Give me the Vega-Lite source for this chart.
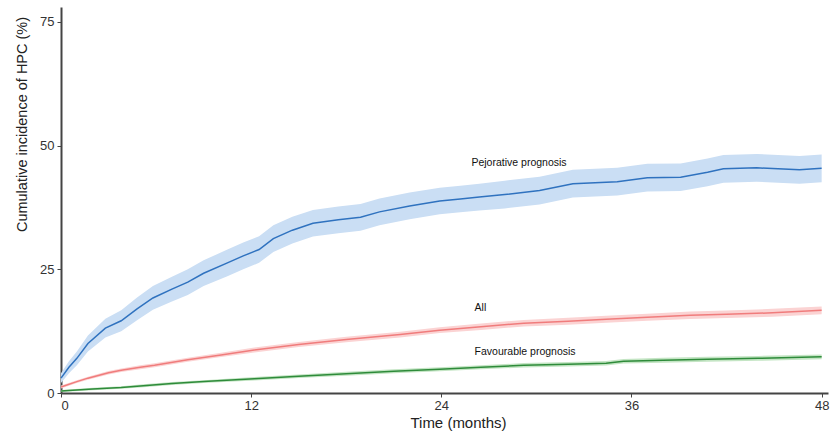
{
  "$schema": "https://vega.github.io/schema/vega-lite/v6.json",
  "autosize": "none",
  "width": 767,
  "height": 386,
  "padding": {"left": 61, "top": 7, "right": 4, "bottom": 42},
  "background": "white",
  "config": {
    "view": {"stroke": null},
    "font": "Liberation Sans",
    "axis": {
      "grid": false,
      "domainColor": "#444444",
      "domainWidth": 2,
      "tickColor": "#444444",
      "tickSize": 4,
      "tickWidth": 1,
      "labelFontSize": 13,
      "labelColor": "#333333",
      "titleFontSize": 14.5,
      "titleFontWeight": "normal",
      "titleColor": "#222222"
    }
  },
  "datasets": {
    "curves": [
      {"series": "Pejorative", "t": 0, "v": 3.0, "lo": 2.0, "hi": 4.0},
      {"series": "Pejorative", "t": 0.5, "v": 5.2, "lo": 4.0, "hi": 6.4},
      {"series": "Pejorative", "t": 1, "v": 7.0, "lo": 5.6, "hi": 8.4},
      {"series": "Pejorative", "t": 1.7, "v": 10.0, "lo": 8.4, "hi": 11.6},
      {"series": "Pejorative", "t": 2.8, "v": 13.1, "lo": 11.2, "hi": 15.0},
      {"series": "Pejorative", "t": 3.8, "v": 14.6, "lo": 12.5, "hi": 16.7},
      {"series": "Pejorative", "t": 4.8, "v": 17.0, "lo": 14.7, "hi": 19.3},
      {"series": "Pejorative", "t": 5.8, "v": 19.2, "lo": 16.8, "hi": 21.6},
      {"series": "Pejorative", "t": 7, "v": 21.0, "lo": 18.5, "hi": 23.5},
      {"series": "Pejorative", "t": 8, "v": 22.4, "lo": 19.8, "hi": 25.0},
      {"series": "Pejorative", "t": 9, "v": 24.2, "lo": 21.6, "hi": 26.8},
      {"series": "Pejorative", "t": 10.5, "v": 26.3, "lo": 23.6, "hi": 29.0},
      {"series": "Pejorative", "t": 11.5, "v": 27.7, "lo": 25.0, "hi": 30.4},
      {"series": "Pejorative", "t": 12.5, "v": 29.0, "lo": 26.3, "hi": 31.7},
      {"series": "Pejorative", "t": 13.4, "v": 31.2, "lo": 28.5, "hi": 33.9},
      {"series": "Pejorative", "t": 14.6, "v": 32.9, "lo": 30.2, "hi": 35.6},
      {"series": "Pejorative", "t": 15.9, "v": 34.3, "lo": 31.6, "hi": 37.0},
      {"series": "Pejorative", "t": 17.5, "v": 35.0, "lo": 32.3, "hi": 37.7},
      {"series": "Pejorative", "t": 18.9, "v": 35.5, "lo": 32.8, "hi": 38.2},
      {"series": "Pejorative", "t": 20.1, "v": 36.6, "lo": 33.9, "hi": 39.3},
      {"series": "Pejorative", "t": 22, "v": 37.8, "lo": 35.1, "hi": 40.5},
      {"series": "Pejorative", "t": 23.9, "v": 38.8, "lo": 36.1, "hi": 41.5},
      {"series": "Pejorative", "t": 25.2, "v": 39.2, "lo": 36.5, "hi": 41.9},
      {"series": "Pejorative", "t": 26.4, "v": 39.6, "lo": 36.9, "hi": 42.3},
      {"series": "Pejorative", "t": 28, "v": 40.1, "lo": 37.3, "hi": 42.9},
      {"series": "Pejorative", "t": 30.2, "v": 40.9, "lo": 38.1, "hi": 43.7},
      {"series": "Pejorative", "t": 32.3, "v": 42.3, "lo": 39.5, "hi": 45.1},
      {"series": "Pejorative", "t": 35.1, "v": 42.7, "lo": 39.9, "hi": 45.5},
      {"series": "Pejorative", "t": 37, "v": 43.5, "lo": 40.7, "hi": 46.3},
      {"series": "Pejorative", "t": 39.1, "v": 43.6, "lo": 40.8, "hi": 46.4},
      {"series": "Pejorative", "t": 40.8, "v": 44.6, "lo": 41.8, "hi": 47.4},
      {"series": "Pejorative", "t": 41.8, "v": 45.3, "lo": 42.5, "hi": 48.1},
      {"series": "Pejorative", "t": 43.9, "v": 45.5, "lo": 42.7, "hi": 48.3},
      {"series": "Pejorative", "t": 46.6, "v": 45.1, "lo": 42.3, "hi": 47.9},
      {"series": "Pejorative", "t": 48, "v": 45.4, "lo": 42.6, "hi": 48.2},
      {"series": "All", "t": 0, "v": 1.2, "lo": 0.9, "hi": 1.5},
      {"series": "All", "t": 1, "v": 2.3, "lo": 2.0, "hi": 2.6},
      {"series": "All", "t": 1.7, "v": 3.0, "lo": 2.7, "hi": 3.3},
      {"series": "All", "t": 3, "v": 4.1, "lo": 3.75, "hi": 4.45},
      {"series": "All", "t": 3.8, "v": 4.6, "lo": 4.25, "hi": 4.95},
      {"series": "All", "t": 5, "v": 5.2, "lo": 4.8, "hi": 5.6},
      {"series": "All", "t": 5.9, "v": 5.6, "lo": 5.2, "hi": 6.0},
      {"series": "All", "t": 8, "v": 6.7, "lo": 6.3, "hi": 7.1},
      {"series": "All", "t": 10.1, "v": 7.7, "lo": 7.25, "hi": 8.15},
      {"series": "All", "t": 12.2, "v": 8.7, "lo": 8.2, "hi": 9.2},
      {"series": "All", "t": 15, "v": 9.8, "lo": 9.3, "hi": 10.3},
      {"series": "All", "t": 18, "v": 10.8, "lo": 10.25, "hi": 11.35},
      {"series": "All", "t": 21.4, "v": 11.8, "lo": 11.2, "hi": 12.4},
      {"series": "All", "t": 23.9, "v": 12.7, "lo": 12.1, "hi": 13.3},
      {"series": "All", "t": 26.5, "v": 13.4, "lo": 12.75, "hi": 14.05},
      {"series": "All", "t": 29.2, "v": 14.1, "lo": 13.45, "hi": 14.75},
      {"series": "All", "t": 32, "v": 14.5, "lo": 13.8, "hi": 15.2},
      {"series": "All", "t": 34.4, "v": 14.9, "lo": 14.2, "hi": 15.6},
      {"series": "All", "t": 37, "v": 15.3, "lo": 14.6, "hi": 16.0},
      {"series": "All", "t": 39.7, "v": 15.7, "lo": 14.95, "hi": 16.45},
      {"series": "All", "t": 42, "v": 15.9, "lo": 15.15, "hi": 16.65},
      {"series": "All", "t": 44.9, "v": 16.2, "lo": 15.4, "hi": 17.0},
      {"series": "All", "t": 48, "v": 16.7, "lo": 15.9, "hi": 17.5},
      {"series": "Favourable", "t": 0, "v": 0.4, "lo": 0.2, "hi": 0.6},
      {"series": "Favourable", "t": 2, "v": 0.8, "lo": 0.55, "hi": 1.05},
      {"series": "Favourable", "t": 3.8, "v": 1.1, "lo": 0.85, "hi": 1.35},
      {"series": "Favourable", "t": 5, "v": 1.4, "lo": 1.1, "hi": 1.7},
      {"series": "Favourable", "t": 7, "v": 1.9, "lo": 1.6, "hi": 2.2},
      {"series": "Favourable", "t": 9, "v": 2.3, "lo": 2.0, "hi": 2.6},
      {"series": "Favourable", "t": 12.2, "v": 2.9, "lo": 2.55, "hi": 3.25},
      {"series": "Favourable", "t": 15, "v": 3.4, "lo": 3.05, "hi": 3.75},
      {"series": "Favourable", "t": 18, "v": 3.9, "lo": 3.5, "hi": 4.3},
      {"series": "Favourable", "t": 21, "v": 4.4, "lo": 4.0, "hi": 4.8},
      {"series": "Favourable", "t": 23.9, "v": 4.8, "lo": 4.4, "hi": 5.2},
      {"series": "Favourable", "t": 26.5, "v": 5.2, "lo": 4.8, "hi": 5.6},
      {"series": "Favourable", "t": 29.2, "v": 5.6, "lo": 5.15, "hi": 6.05},
      {"series": "Favourable", "t": 32, "v": 5.8, "lo": 5.35, "hi": 6.25},
      {"series": "Favourable", "t": 34.4, "v": 6.0, "lo": 5.55, "hi": 6.45},
      {"series": "Favourable", "t": 35.5, "v": 6.4, "lo": 5.95, "hi": 6.85},
      {"series": "Favourable", "t": 38, "v": 6.6, "lo": 6.1, "hi": 7.1},
      {"series": "Favourable", "t": 40.8, "v": 6.8, "lo": 6.3, "hi": 7.3},
      {"series": "Favourable", "t": 44, "v": 7.0, "lo": 6.5, "hi": 7.5},
      {"series": "Favourable", "t": 48, "v": 7.3, "lo": 6.8, "hi": 7.8}
    ],
    "labels": [
      {"label": "Pejorative prognosis", "t": 25.9, "v": 46.4},
      {"label": "All", "t": 26.1, "v": 17.1},
      {"label": "Favourable prognosis", "t": 26.1, "v": 8.3}
    ]
  },
  "layer": [
    {
      "data": {"name": "curves"},
      "mark": {"type": "area", "opacity": 1},
      "encoding": {
        "x": {
          "field": "t", "type": "quantitative",
          "scale": {"domain": [0, 48.4], "nice": false, "zero": false},
          "axis": {"values": [0, 12, 24, 36, 48], "title": "Time (months)", "titleFontSize": 15, "titleX": 397, "titlePadding": 3, "labelPadding": 2}
        },
        "y": {
          "field": "lo", "type": "quantitative",
          "scale": {"domain": [0, 78], "nice": false},
          "axis": {"values": [0, 25, 50, 75], "title": "Cumulative incidence of HPC (%)", "titleY": 117, "titlePadding": 10, "labelPadding": 3}
        },
        "y2": {"field": "hi"},
        "fill": {
          "field": "series", "type": "nominal",
          "scale": {"domain": ["Pejorative", "All", "Favourable"], "range": ["#cadef4", "#fbd3d3", "#c4e5c4"]},
          "legend": null
        },
        "detail": {"field": "series"}
      }
    },
    {
      "data": {"name": "curves"},
      "mark": {"type": "line", "strokeWidth": 1.5},
      "encoding": {
        "x": {"field": "t", "type": "quantitative"},
        "y": {"field": "v", "type": "quantitative"},
        "stroke": {
          "field": "series", "type": "nominal",
          "scale": {"domain": ["Pejorative", "All", "Favourable"], "range": ["#2f72bf", "#f07c7c", "#2e8b3a"]},
          "legend": null
        },
        "detail": {"field": "series"}
      }
    },
    {
      "data": {"name": "labels"},
      "mark": {"type": "text", "align": "left", "baseline": "middle", "fontSize": 10.5, "color": "#111111"},
      "encoding": {
        "x": {"field": "t", "type": "quantitative"},
        "y": {"field": "v", "type": "quantitative"},
        "text": {"field": "label", "type": "nominal"}
      }
    }
  ]
}
